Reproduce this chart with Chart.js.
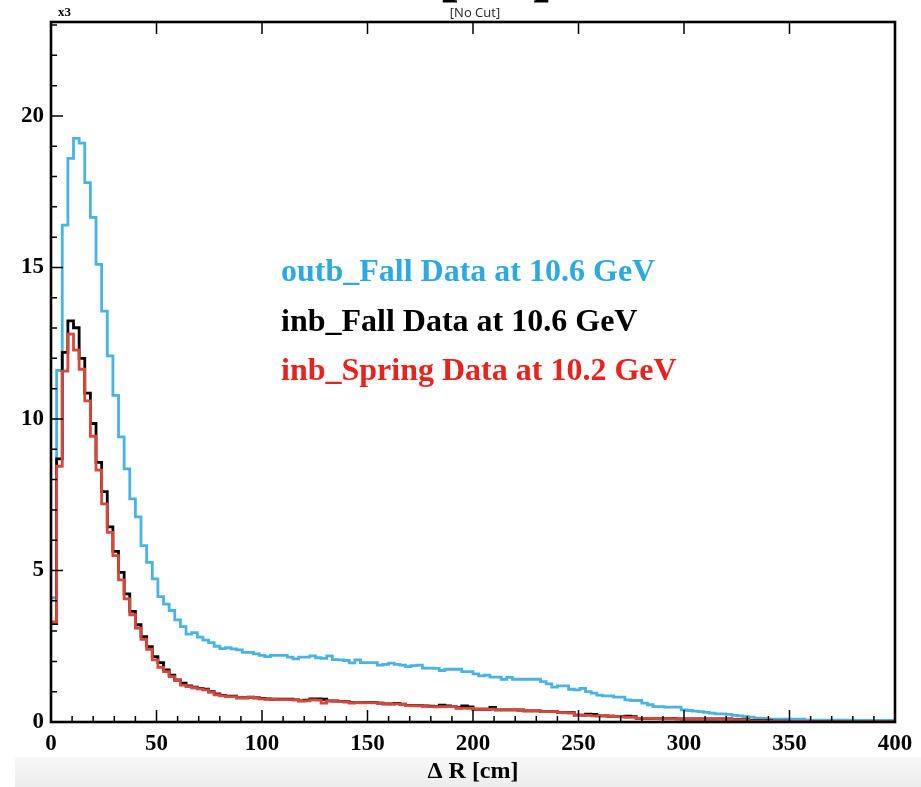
<!DOCTYPE html>
<html>
<head>
<meta charset="utf-8">
<script src="https://cdn.jsdelivr.net/npm/chart.js@4.4.1/dist/chart.umd.min.js"></script>
<style>
  html, body { margin: 0; padding: 0; background: #ffffff; }
  #wrap { width: 921px; height: 787px; position: relative; }
  canvas { display: block; }
</style>
</head>
<body>
<div id="wrap"><canvas id="c" width="921" height="787"></canvas></div>
<script>
// Histogram binning of Delta R (cm)
const X_MIN = 0;
const X_MAX = 400;
const Y_MAX = 23.1;

const xTickValues = [0, 50, 100, 150, 200, 250, 300, 350, 400];
const yTickValues = [0, 5, 10, 15, 20];
const xAxisTitle = 'Δ R [cm]';
const yExponent = 'x3';
const cutLabel = '[No Cut]';

const seriesNames = [
  'outb_Fall Data at 10.6 GeV',
  'inb_Fall Data at 10.6 GeV',
  'inb_Spring Data at 10.2 GeV'
];

// Counts per bin (in thousands), 150 bins over 0-400 cm
const outbFall = [
  4.1, 11.6, 16.4, 18.6, 19.26, 19.1, 17.8, 16.65, 15.1, 13.56,
  12.08, 10.78, 9.41, 8.35, 7.36, 6.77, 5.82, 5.27, 4.72, 4.14,
  3.89, 3.68, 3.37, 3.15, 2.9, 2.95, 2.8, 2.7, 2.62, 2.5,
  2.42, 2.45, 2.41, 2.38, 2.3, 2.3, 2.25, 2.2, 2.16, 2.2,
  2.2, 2.2, 2.14, 2.08, 2.14, 2.14, 2.18, 2.12, 2.1, 2.18,
  2.06, 2.05, 2.03, 1.95, 2.05, 1.96, 1.96, 1.96, 1.88, 1.9,
  1.94, 1.9, 1.88, 1.83, 1.86, 1.88, 1.78, 1.78, 1.77, 1.7,
  1.74, 1.74, 1.74, 1.66, 1.66, 1.59, 1.52, 1.55, 1.48, 1.48,
  1.41, 1.47, 1.41, 1.41, 1.41, 1.41, 1.41, 1.33, 1.26, 1.15,
  1.19, 1.19, 1.08, 1.06, 1.11, 1.0, 0.95, 0.89, 0.86, 0.86,
  0.82, 0.82, 0.73, 0.71, 0.71, 0.62, 0.57, 0.51, 0.51, 0.49,
  0.49, 0.49, 0.40, 0.38, 0.36, 0.34, 0.32, 0.29, 0.27, 0.27,
  0.25, 0.22, 0.2, 0.18, 0.16, 0.13, 0.12, 0.1, 0.09, 0.09,
  0.09, 0.09, 0.09, 0.09, 0.06, 0.06, 0.06, 0.06, 0.06, 0.06,
  0.06, 0.06, 0.06, 0.05, 0.05, 0.05, 0.05, 0.05, 0.05, 0.05
];

const inbFall = [
  3.25, 8.68, 12.2, 13.24, 13.01, 12.0, 10.85, 9.85, 8.57, 7.6,
  6.44, 5.63, 4.94, 4.23, 3.65, 3.21, 2.82, 2.49, 2.16, 1.96,
  1.72, 1.55, 1.39, 1.28, 1.19, 1.15, 1.11, 1.08, 1.0, 0.93,
  0.88, 0.85, 0.85, 0.8, 0.8, 0.82, 0.8, 0.78, 0.76, 0.75,
  0.75, 0.75, 0.75, 0.73, 0.7, 0.72, 0.76, 0.76, 0.75, 0.7,
  0.7, 0.68, 0.67, 0.64, 0.64, 0.64, 0.65, 0.64, 0.62, 0.6,
  0.6, 0.61, 0.59, 0.55, 0.54, 0.54, 0.53, 0.52, 0.51, 0.56,
  0.53, 0.51, 0.47, 0.53, 0.5, 0.42, 0.42, 0.42, 0.48, 0.4,
  0.4, 0.4, 0.4, 0.4, 0.37, 0.37, 0.37, 0.34, 0.34, 0.34,
  0.31, 0.31, 0.31, 0.23, 0.23, 0.26, 0.25, 0.2, 0.2, 0.19,
  0.18, 0.18, 0.19, 0.18, 0.12, 0.12, 0.12, 0.11, 0.11, 0.11,
  0.11, 0.1, 0.1, 0.1, 0.1, 0.1, 0.1, 0.1, 0.1, 0.1,
  0.1, 0.08, 0.08, 0.08, 0.05, 0.05, 0.05, 0.05, 0.03, 0.03,
  0.03, 0.02, 0.02, 0.02, 0.02, 0.02, 0.02, 0.02, 0.01, 0.01,
  0.01, 0.01, 0.01, 0.01, 0.01, 0.01, 0.01, 0.01, 0.01, 0.01
];

const inbSpring = [
  3.3, 8.44, 11.58, 12.8, 12.27, 11.64, 10.6, 9.43, 8.31, 7.2,
  6.26, 5.49, 4.69, 4.06, 3.54, 3.1, 2.73, 2.4, 2.05, 1.8,
  1.66, 1.5, 1.37, 1.22, 1.17, 1.13, 1.09, 1.06, 0.98, 0.9,
  0.86, 0.84, 0.84, 0.8, 0.8, 0.81, 0.8, 0.76, 0.75, 0.75,
  0.74, 0.74, 0.74, 0.74, 0.7, 0.7, 0.73, 0.72, 0.62, 0.7,
  0.68, 0.67, 0.66, 0.62, 0.64, 0.63, 0.64, 0.63, 0.62, 0.6,
  0.59, 0.6, 0.58, 0.54, 0.53, 0.53, 0.52, 0.51, 0.5, 0.51,
  0.51, 0.51, 0.45, 0.46, 0.45, 0.42, 0.42, 0.42, 0.42, 0.4,
  0.4, 0.4, 0.4, 0.38, 0.37, 0.37, 0.37, 0.34, 0.34, 0.34,
  0.31, 0.3, 0.29, 0.23, 0.23, 0.22, 0.2, 0.2, 0.2, 0.19,
  0.18, 0.17, 0.15, 0.15, 0.12, 0.12, 0.12, 0.11, 0.1, 0.1,
  0.1, 0.1, 0.09, 0.09, 0.09, 0.09, 0.09, 0.09, 0.09, 0.09,
  0.09, 0.07, 0.07, 0.07, 0.04, 0.04, 0.04, 0.04, 0.02, 0.02,
  0.02, 0.02, 0.02, 0.02, 0.02, 0.01, 0.01, 0.01, 0.01, 0.01,
  0.01, 0.01, 0.01, 0.01, 0.01, 0.01, 0.01, 0.01, 0.01, 0.01
];

const lineColors = ['#48b3e4', '#000000', '#d8473a'];
const textColors = ['#2ca9e1', '#000000', '#e8231e'];

// Turn bin contents into step points at the bin edges
function histPoints(values) {
  const w = (X_MAX - X_MIN) / values.length;
  const pts = values.map((v, i) => ({ x: X_MIN + i * w, y: v }));
  pts.push({ x: X_MAX, y: values[values.length - 1] });
  return pts;
}

const SERIF = '"Liberation Serif", "Times New Roman", serif';

const frameAndLabels = {
  id: 'frameAndLabels',
  beforeDraw(chart) {
    const { ctx, width, height } = chart;
    ctx.save();
    ctx.fillStyle = '#ffffff';
    ctx.fillRect(0, 0, width, height);
    const g = ctx.createLinearGradient(0, 757, 0, height);
    g.addColorStop(0, '#f8f8f8');
    g.addColorStop(1, '#ececec');
    ctx.fillStyle = g;
    ctx.fillRect(15, 757, width - 15, height - 757);
    ctx.restore();
  },
  afterDraw(chart) {
    const { ctx, chartArea: { left, right, top, bottom }, scales: { x, y } } = chart;
    ctx.save();
    ctx.strokeStyle = '#000';
    ctx.lineWidth = 1.5;
    ctx.beginPath();
    for (let v = X_MIN; v <= X_MAX; v += 10) {
      const px = x.getPixelForValue(v);
      const major = v % 50 === 0;
      ctx.moveTo(px, bottom);
      ctx.lineTo(px, bottom - (major ? 12 : 6));
      if (major) {
        ctx.moveTo(px, top);
        ctx.lineTo(px, top + 12);
      }
    }
    for (let v = 0; v <= Math.floor(Y_MAX); v += 1) {
      const py = y.getPixelForValue(v);
      const major = v % 5 === 0;
      ctx.moveTo(left, py);
      ctx.lineTo(left + (major ? 12 : 6), py);
    }
    ctx.stroke();

    // frame
    ctx.lineWidth = 2.6;
    ctx.strokeRect(left, top, right - left, bottom - top);

    // legend block
    ctx.font = 'bold 32px ' + SERIF;
    ctx.textAlign = 'left';
    ctx.textBaseline = 'alphabetic';
    const baselines = [281, 331, 380];
    seriesNames.forEach((name, i) => {
      ctx.fillStyle = textColors[i];
      ctx.fillText(name, 281, baselines[i]);
    });

    // exponent marker
    ctx.fillStyle = '#000';
    ctx.font = 'bold 13px ' + SERIF;
    ctx.textBaseline = 'middle';
    ctx.fillText(yExponent, 58, 13);

    // cut label and clipped heading
    ctx.font = '13px "Open Sans", "Liberation Sans", sans-serif';
    ctx.fillStyle = '#222';
    ctx.textAlign = 'center';
    ctx.fillText(cutLabel, 475, 13);
    ctx.font = 'bold 64px ' + SERIF;
    ctx.textBaseline = 'alphabetic';
    ctx.fillStyle = '#000';
    ctx.textAlign = 'left';
    ctx.fillText('[', 438, -6);
    ctx.textAlign = 'right';
    ctx.fillText(']', 553, -6);
    ctx.restore();
  }
};

const chart = new Chart(document.getElementById('c'), {
  type: 'line',
  data: {
    datasets: [
      { label: seriesNames[2], data: histPoints(inbSpring), borderColor: lineColors[2] },
      { label: seriesNames[1], data: histPoints(inbFall), borderColor: lineColors[1] },
      { label: seriesNames[0], data: histPoints(outbFall), borderColor: lineColors[0] }
    ].map(d => Object.assign(d, {
      stepped: 'before',
      borderWidth: 2.8,
      pointRadius: 0,
      fill: false,
      tension: 0,
      borderJoinStyle: 'miter'
    }))
  },
  options: {
    responsive: false,
    animation: false,
    devicePixelRatio: 1,
    layout: { padding: { top: 22, right: 26, left: 0, bottom: 0 } },
    plugins: { legend: { display: false }, tooltip: { enabled: false }, title: { display: false } },
    scales: {
      x: {
        type: 'linear',
        min: X_MIN,
        max: X_MAX,
        grid: { display: false, drawTicks: false },
        border: { display: false },
        afterBuildTicks: s => { s.ticks = xTickValues.map(v => ({ value: v })); },
        afterFit: s => { s.height = 65; },
        ticks: {
          color: '#000',
          padding: 8,
          maxRotation: 0,
          autoSkip: false,
          font: { family: SERIF, weight: 'bold', size: 23 }
        },
        title: {
          display: true,
          text: xAxisTitle,
          color: '#000',
          padding: { top: 0, bottom: 1 },
          font: { family: SERIF, weight: 'bold', size: 24 }
        }
      },
      y: {
        type: 'linear',
        min: 0,
        max: Y_MAX,
        grid: { display: false, drawTicks: false },
        border: { display: false },
        afterBuildTicks: s => { s.ticks = yTickValues.map(v => ({ value: v })); },
        afterFit: s => { s.width = 51; },
        ticks: {
          color: '#000',
          padding: 7,
          font: { family: SERIF, weight: 'bold', size: 23 }
        }
      }
    }
  },
  plugins: [frameAndLabels]
});
</script>
</body>
</html>
